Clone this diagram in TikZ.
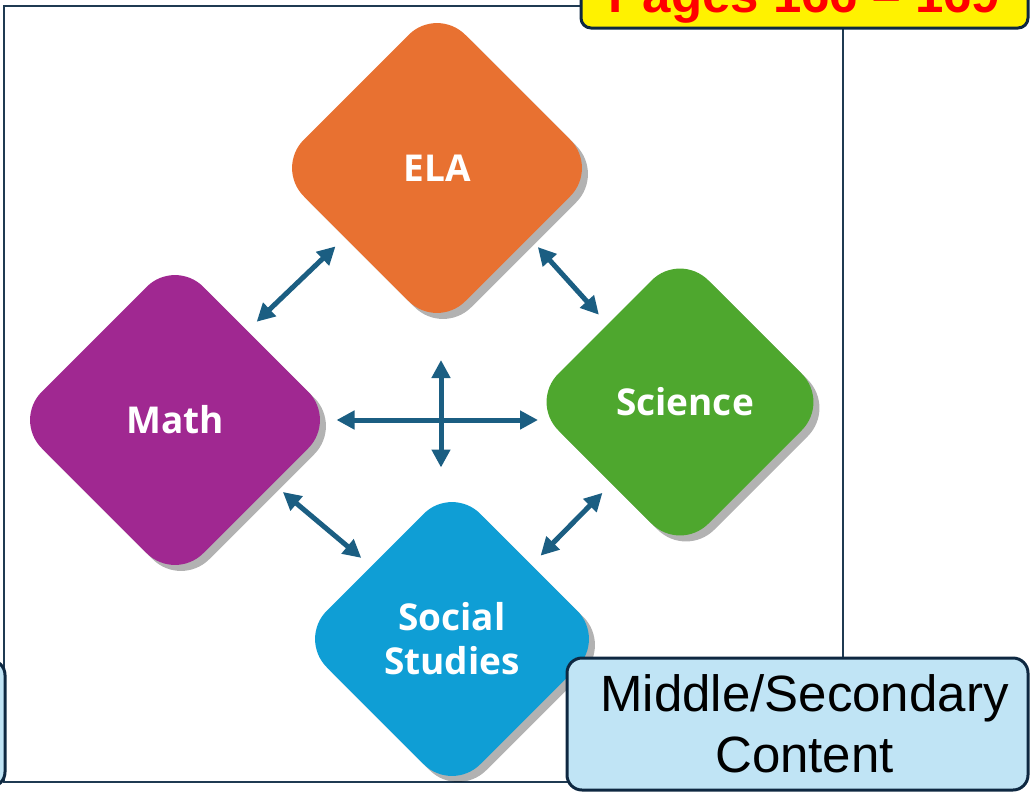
\documentclass[tikz,border=0pt]{standalone}
\usepackage{fontspec}
\setmainfont{Liberation Sans}
\newfontfamily\subjfont{Open Sans}
\usetikzlibrary{shapes.geometric,arrows.meta,shadows}

\definecolor{elaorange}{RGB}{232,113,49}
\definecolor{mathpurple}{RGB}{160,40,145}
\definecolor{scigreen}{RGB}{78,167,46}
\definecolor{socblue}{RGB}{15,158,213}
\definecolor{linkblue}{RGB}{27,94,130}
\definecolor{framenavy}{RGB}{31,58,82}
\definecolor{boxnavy}{RGB}{14,40,65}
\definecolor{notefill}{RGB}{192,228,245}

\tikzset{
	subject/.style={shape=diamond,aspect=1,rounded corners=40pt,inner sep=0pt,outer sep=0pt,
		text=white,align=center,font=\subjfont\bfseries\fontsize{37}{44}\selectfont,
		drop shadow={shadow xshift=6pt,shadow yshift=-6pt,opacity=0.3,fill=black}},
	link/.style={draw=linkblue,line width=5pt,
		{Triangle[length=18pt,width=18pt]}-{Triangle[length=18pt,width=18pt]},
		shorten <=13pt,shorten >=13pt},
	notebox/.style={draw=boxnavy,line width=3pt,fill=notefill,rounded corners=15pt,
		align=center,font=\fontsize{51}{61}\selectfont},
	pagebox/.style={draw=boxnavy,line width=3pt,fill=yellow,rounded corners=10pt,
		text=red,font=\bfseries\fontsize{51}{61}\selectfont}
}

\begin{document}
\begin{tikzpicture}[x=1pt,y=-1pt]
		\useasboundingbox (0,0) rectangle (1031,793);

		% frame of the slide picture
		\draw[framenavy,line width=1.5pt] (4,6) rectangle (843,782);

		% the four subjects
		\node[subject,fill=elaorange,minimum width=323pt,minimum height=323pt] (ela) at (437,168) {ELA};
		\node[subject,fill=mathpurple,minimum width=323pt,minimum height=323pt] (math) at (175,420) {Math};
		\node[subject,fill=scigreen,minimum width=300pt,minimum height=300pt] (sci) at (680,402) {\hspace*{10pt}Science};
		\node[subject,fill=socblue,minimum width=307pt,minimum height=307pt] (soc) at (452,639) {Social\\Studies};

		% links between the subjects
		\draw[link] (ela.217) -- (math.51);
		\draw[link] (ela.323) -- (sci.133);
		\draw[link] (math.327) -- (soc.138);
		\draw[link] (sci.230) -- (soc.43);

		% cross in the middle
		\coordinate (hub) at (441,420);
		\draw[link,shorten <=0pt,shorten >=-8pt] (math.east) -- (hub -| sci.west);
		\draw[link,shorten <=30.5pt,shorten >=18pt] (hub |- ela.south) -- (hub |- soc.north);

		% boxes at the edges
		\node[pagebox,minimum width=447pt,minimum height=56pt] (pages) at (804.5,0) {Pages 166 -- 169};
		\node[notebox,minimum width=461pt,minimum height=132pt] (level) at (797.5,724) {\hspace*{14pt}Middle/Secondary\\\hspace*{14pt}Content};
		\node[notebox,minimum width=120pt,minimum height=127pt] (prev) at (-55,723.5) {};
\end{tikzpicture}
\end{document}
